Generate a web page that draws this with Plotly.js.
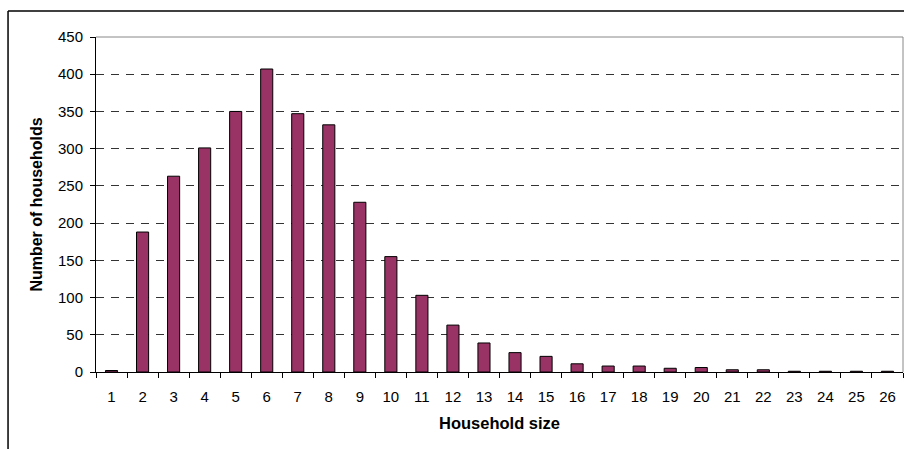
<!DOCTYPE html>
<html>
<head>
<meta charset="utf-8">
<script src="https://cdn.plot.ly/plotly-3.0.1.min.js"></script>
<style>
  html, body { margin: 0; padding: 0; background: #ffffff; }
  #chart { width: 904px; height: 449px; }
</style>
</head>
<body>
<div id="chart"></div>
<script>
const householdSize = ["1","2","3","4","5","6","7","8","9","10","11","12","13","14","15","16","17","18","19","20","21","22","23","24","25","26"];
const numberOfHouseholds = [2, 188, 263, 301, 350, 407, 347, 332, 228, 155, 103, 63, 39, 26, 21, 11, 8, 8, 5, 6, 3, 3, 1, 1, 1, 1];
const xTitle = "Household size";
const yTitle = "Number of households";

const trace = {
  type: "bar",
  x: householdSize,
  y: numberOfHouseholds,
  marker: { color: "#993366", line: { color: "#000000", width: 1 } },
  hoverinfo: "x+y"
};

const fontFamily = "Arial, 'Liberation Sans', sans-serif";

const layout = {
  width: 904,
  height: 449,
  margin: { l: 96, r: 1, t: 37, b: 77, pad: 0 },
  paper_bgcolor: "#ffffff",
  plot_bgcolor: "#ffffff",
  showlegend: false,
  bargap: 0.61,
  font: { family: fontFamily, size: 15, color: "#000000" },
  xaxis: {
    type: "category",
    range: [-0.5, 25.5],
    tickson: "boundaries",
    ticks: "outside",
    ticklen: 5,
    tickcolor: "#000000",
    ticklabelstandoff: 11,
    showline: true,
    linecolor: "#000000",
    linewidth: 1,
    showgrid: false,
    zeroline: false,
    tickfont: { family: fontFamily, size: 15 },
    title: { text: "<b>" + xTitle + "</b>", font: { family: fontFamily, size: 16.5 }, standoff: 13 },
    automargin: false,
    fixedrange: true
  },
  yaxis: {
    range: [0, 450],
    dtick: 50,
    tick0: 0,
    ticks: "outside",
    ticklen: 5,
    tickcolor: "#000000",
    ticklabelstandoff: 4,
    showline: true,
    linecolor: "#000000",
    linewidth: 1,
    showgrid: true,
    gridcolor: "#333333",
    gridwidth: 1,
    griddash: "8px,7px",
    zeroline: false,
    tickfont: { family: fontFamily, size: 15 },
    title: { text: "<b>" + yTitle + "</b>", font: { family: fontFamily, size: 16 }, standoff: 11 },
    automargin: false,
    fixedrange: true
  },
  shapes: [
    { type: "line", xref: "paper", yref: "paper", x0: 0, x1: 1, y0: 1, y1: 1, line: { color: "#888888", width: 1 } },
    { type: "line", xref: "paper", yref: "paper", x0: 1, x1: 1, y0: 0, y1: 1, line: { color: "#888888", width: 1 } },
    { type: "line", xref: "paper", yref: "paper", x0: -0.109, x1: 1.05, y0: 1.0776, y1: 1.0776, line: { color: "#000000", width: 1.5 } },
    { type: "line", xref: "paper", yref: "paper", x0: -0.109, x1: -0.109, y0: -0.4, y1: 1.0776, line: { color: "#000000", width: 1.5 } }
  ]
};

Plotly.newPlot("chart", [trace], layout, { displayModeBar: false, staticPlot: true });
</script>
</body>
</html>
